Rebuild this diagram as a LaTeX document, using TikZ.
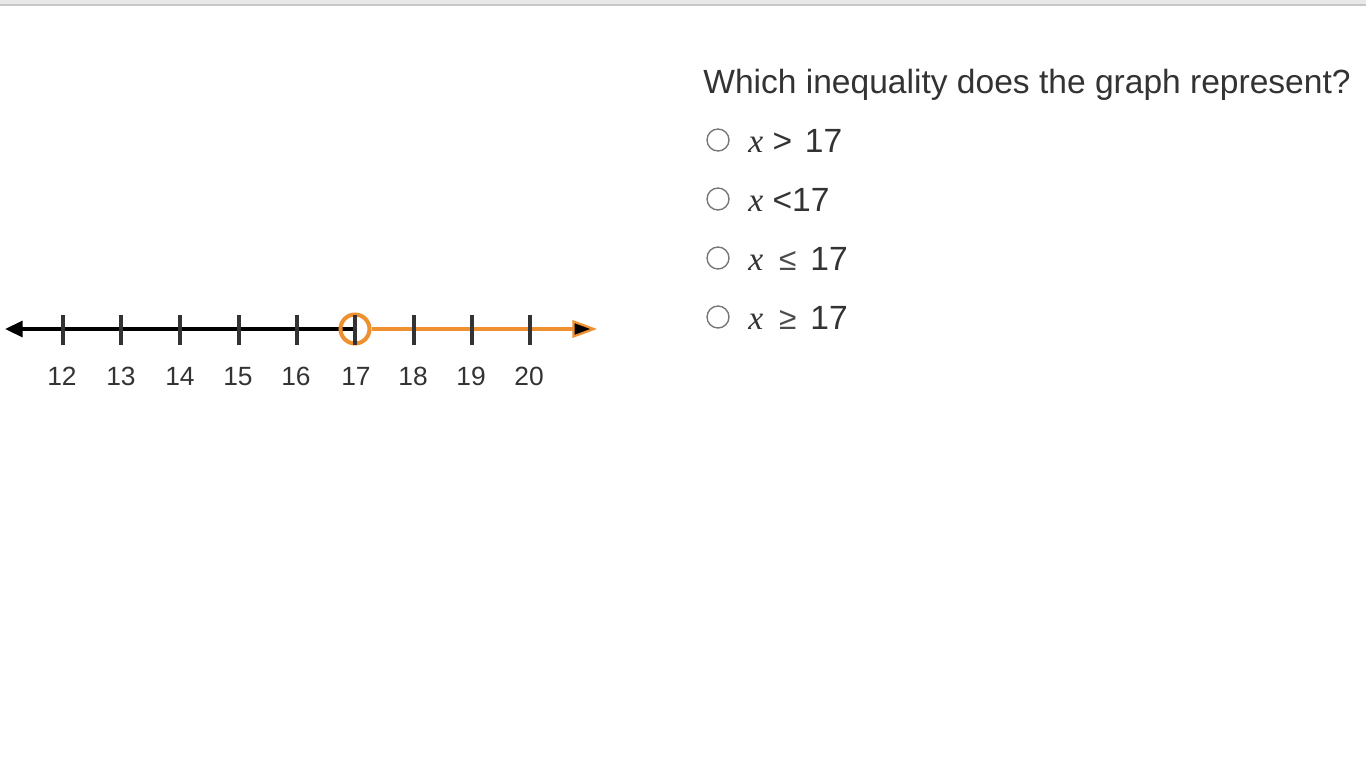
\documentclass[tikz,border=0pt]{standalone}
\usepackage{fontspec}
\setmainfont{Liberation Sans}
\newfontfamily\xfont{Liberation Serif}
\usetikzlibrary{arrows.meta,positioning}
\definecolor{ink}{HTML}{333333}
\definecolor{ray}{HTML}{EE9030}
\definecolor{radio}{HTML}{777777}
\newcommand{\xv}{{\xfont\itshape x}}
\newcommand{\rel}[1]{{\fontsize{18}{20}\selectfont\color{black!70}#1}}

\begin{document}
\begin{tikzpicture}[x=0.02cm,y=-0.02cm]
    \tikzstyle{tick}=[draw=ink,line width=2pt]
    \tikzstyle{num}=[text=ink,font=\fontsize{15}{18}\selectfont,anchor=base,inner sep=0pt]
    \tikzstyle{choice}=[circle,draw=radio,line width=0.8pt,minimum size=12.5pt,inner sep=0pt]
    \tikzstyle{answer}=[text=ink,font=\fontsize{19.1}{22}\selectfont,anchor=base west,inner sep=0pt]

    \useasboundingbox (0,0) rectangle (1366,768);
    \fill[white] (0,0) rectangle (1366,768);
    \fill[black!9] (0,0) rectangle (1366,4);
    \fill[black!22] (0,4) rectangle (1366,6);

    % number line
    \coordinate (lend) at (5,329);
    \coordinate (rend) at (597,329);
    \coordinate (p17) at (355,329);
    \draw [line width=2pt,-{Triangle[length=10pt,width=9pt]}] (p17) -- (lend);
    \node(c17) [circle,draw=ray,line width=2.3pt,minimum size=16.5pt,inner sep=0pt] at (p17) {};
    \draw [ray,line width=2pt,-{Triangle[length=14pt,width=10pt,fill=black,line width=1.3pt]}] (c17.east) -- (rend);

    \draw [tick] (63,315) -- (63,345);
    \draw [tick] (121,315) -- (121,345);
    \draw [tick] (180,315) -- (180,345);
    \draw [tick] (239,315) -- (239,345);
    \draw [tick] (297,315) -- (297,345);
    \draw [tick] (355,315) -- (355,345);
    \draw [tick] (414,315) -- (414,345);
    \draw [tick] (472,315) -- (472,345);
    \draw [tick] (530,315) -- (530,345);

    \node(n12) [num] at (62,385) {12};
    \node(n13) [num] at (121,385) {13};
    \node(n14) [num] at (180,385) {14};
    \node(n15) [num] at (238,385) {15};
    \node(n16) [num] at (296,385) {16};
    \node(n17) [num] at (356,385) {17};
    \node(n18) [num] at (413,385) {18};
    \node(n19) [num] at (471,385) {19};
    \node(n20) [num] at (529,385) {20};

    % question and choices
    \node(q)  [answer] at (703,93) {Which inequality does the graph represent?};
    \node(r1) [choice] at (718,140) {};
    \node(a1) [answer] at (748,152) {\xv\ >\hspace{2pt} 17};
    \node(r2) [choice] at (718,199) {};
    \node(a2) [answer] at (748,211) {\xv\ <17};
    \node(r3) [choice] at (718,258) {};
    \node(a3) [answer] at (748,270) {\xv\hspace{9pt}\rel{≤}\hspace{8pt}17};
    \node(r4) [choice] at (718,317) {};
    \node(a4) [answer] at (748,329) {\xv\hspace{9pt}\rel{≥}\hspace{8pt}17};

\end{tikzpicture}
\end{document}
